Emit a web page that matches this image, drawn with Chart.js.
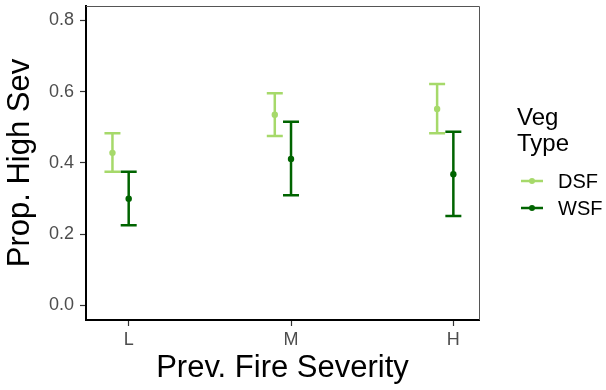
<!DOCTYPE html>
<html>
<head>
<meta charset="utf-8">
<script src="https://cdn.jsdelivr.net/npm/chart.js@4/dist/chart.umd.min.js"></script>
<style>
	body { margin: 0; background: #fff; }
	#wrap { width: 606px; height: 390px; }
</style>
</head>
<body>
<div id="wrap"><canvas id="chart" width="606" height="390"></canvas></div>
<script>
// categories on x, tick values on y
const categories = ['L', 'M', 'H'];
const yTicks = [0.0, 0.2, 0.4, 0.6, 0.8];

// DSF series: estimate + lower/upper bounds
const dsfValues = [0.428, 0.535, 0.551];
const dsfLower = [0.375, 0.475, 0.483];
const dsfUpper = [0.483, 0.595, 0.621];

// WSF series
const wsfValues = [0.299, 0.411, 0.368];
const wsfLower = [0.225, 0.309, 0.251];
const wsfUpper = [0.375, 0.515, 0.487];

const FONT = "'Liberation Sans', Arial, sans-serif";

// build scatter points, category i sits at x = i + 1, shifted by the dodge offset
let toPoints = (values, dodge) => values.map((v, i) => ({ x: i + 1 + dodge, y: v }));

let series = [
	{ label: 'DSF', color: '#a6d96a', values: dsfValues, lower: dsfLower, upper: dsfUpper, dodge: -0.1 },
	{ label: 'WSF', color: '#006400', values: wsfValues, lower: wsfLower, upper: wsfUpper, dodge: 0 },
];

// error bars drawn through the chart scales
let errorBars = {
	id: 'errorBars',
	beforeDatasetsDraw (chart) {
		let { ctx, scales: { x, y } } = chart;
		ctx.save();
		ctx.lineWidth = 2.5;
		series.forEach((s) => {
			ctx.strokeStyle = s.color;
			s.values.forEach((v, i) => {
				let px = x.getPixelForValue(i + 1 + s.dodge);
				let top = y.getPixelForValue(s.upper[i]);
				let bot = y.getPixelForValue(s.lower[i]);
				ctx.beginPath();
				ctx.moveTo(px, top);
				ctx.lineTo(px, bot);
				ctx.moveTo(px - 8, top);
				ctx.lineTo(px + 8, top);
				ctx.moveTo(px - 8, bot);
				ctx.lineTo(px + 8, bot);
				ctx.stroke();
			});
		});
		ctx.restore();
	},
};

// top and right panel border (left/bottom come from the axes)
let panelBorder = {
	id: 'panelBorder',
	afterDraw (chart) {
		let { ctx, chartArea } = chart;
		ctx.save();
		ctx.strokeStyle = '#555';
		ctx.lineWidth = 1;
		ctx.beginPath();
		ctx.moveTo(chartArea.left, chartArea.top + 0.5);
		ctx.lineTo(chartArea.right + 0.5, chartArea.top + 0.5);
		ctx.lineTo(chartArea.right + 0.5, chartArea.bottom);
		ctx.stroke();
		ctx.restore();
	},
};

// ggplot-style legend on the right
let sideLegend = {
	id: 'sideLegend',
	afterDraw (chart) {
		let { ctx } = chart;
		ctx.save();
		ctx.fillStyle = '#000';
		ctx.textBaseline = 'alphabetic';
		ctx.font = `24px ${FONT}`;
		ctx.fillText('Veg', 517, 125);
		ctx.fillText('Type', 517, 151);
		ctx.font = `20px ${FONT}`;
		ctx.textBaseline = 'middle';
		series.forEach((s, idx) => {
			let yy = 181 + idx * 27;
			ctx.strokeStyle = s.color;
			ctx.lineWidth = 2.5;
			ctx.beginPath();
			ctx.moveTo(521, yy);
			ctx.lineTo(543, yy);
			ctx.stroke();
			ctx.fillStyle = s.color;
			ctx.beginPath();
			ctx.arc(532, yy, 3, 0, Math.PI * 2);
			ctx.fill();
			ctx.fillStyle = '#000';
			ctx.fillText(s.label, 558, yy + 1);
		});
		ctx.restore();
	},
};

new Chart(document.getElementById('chart'), {
	type: 'scatter',
	data: {
		datasets: series.map((s) => ({
			label: s.label,
			data: toPoints(s.values, s.dodge),
			backgroundColor: s.color,
			borderColor: s.color,
			pointRadius: 3.2,
			pointHoverRadius: 3.2,
			borderWidth: 0,
		})),
	},
	options: {
		responsive: false,
		animation: false,
		layout: { padding: { top: 6, right: 127, left: 0, bottom: 0 } },
		plugins: {
			legend: { display: false },
			tooltip: { enabled: false },
		},
		scales: {
			x: {
				type: 'linear',
				min: 0.737,
				max: 3.158,
				afterBuildTicks: (scale) => { scale.ticks = categories.map((c, i) => ({ value: i + 1 })); },
				afterFit: (scale) => { scale.height = 70; scale.paddingLeft = 0; scale.paddingRight = 0; },
				ticks: {
					callback: (v) => categories[v - 1],
					color: '#4d4d4d',
					font: { family: FONT, size: 18 },
					padding: 3,
					maxRotation: 0,
				},
				grid: { drawOnChartArea: false, tickLength: 6, tickColor: '#333', tickWidth: 1.2 },
				border: { color: '#000', width: 2 },
				title: {
					display: true,
					text: 'Prev. Fire Severity',
					color: '#000',
					font: { family: FONT, size: 31 },
					padding: { top: 0, bottom: 3 },
				},
			},
			y: {
				min: -0.041,
				max: 0.84,
				afterBuildTicks: (scale) => { scale.ticks = yTicks.map((v) => ({ value: v })); },
				afterFit: (scale) => { scale.width = 86; scale.paddingTop = 0; scale.paddingBottom = 0; },
				ticks: {
					callback: (v) => v.toFixed(1),
					color: '#4d4d4d',
					font: { family: FONT, size: 18 },
					padding: 6,
				},
				grid: { drawOnChartArea: false, tickLength: 6, tickColor: '#333', tickWidth: 1.2 },
				border: { color: '#000', width: 2 },
				title: {
					display: true,
					text: 'Prop. High Sev',
					color: '#000',
					font: { family: FONT, size: 31 },
					padding: { top: 2, bottom: 0 },
				},
			},
		},
	},
	plugins: [errorBars, panelBorder, sideLegend],
});
</script>
</body>
</html>
